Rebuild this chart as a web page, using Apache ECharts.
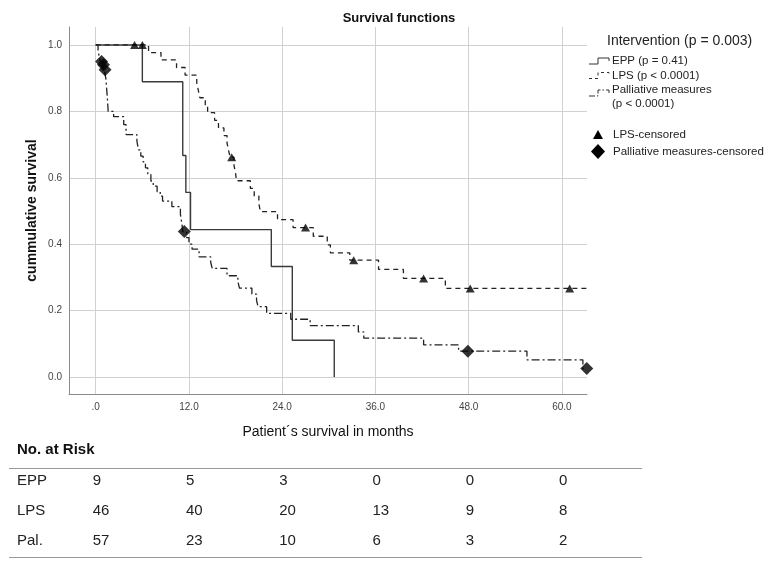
<!DOCTYPE html>
<html><head><meta charset="utf-8">
<script src="https://cdn.jsdelivr.net/npm/echarts@6.0.0/dist/echarts.min.js"></script>
<style>html,body{margin:0;padding:0;background:#fff}#c{width:772px;height:563px}</style>
</head><body><div id="c"></div>
<script>
// ---- data ----
const eppTimes = [0, 6.0, 11.2, 11.6, 12.2, 22.6, 25.3, 30.7];
const eppSurv  = [1, 0.889, 0.667, 0.556, 0.444, 0.333, 0.111, 0];

const lpsTimes = [0, 6.8, 8.4, 10.4, 11.5, 13.0, 13.2, 13.4, 14.1, 14.4, 15.3, 15.8, 16.5, 16.9, 17.1, 17.3, 17.8, 18.0, 18.1, 19.9, 20.4, 21.0, 21.2, 23.4, 25.4, 28.0, 29.8, 30.2, 32.7, 36.4, 39.6, 45.0, 63.2];
const lpsSurv  = [1, 0.977, 0.955, 0.932, 0.909, 0.886, 0.864, 0.841, 0.818, 0.796, 0.773, 0.750, 0.727, 0.705, 0.682, 0.662, 0.637, 0.614, 0.591, 0.568, 0.545, 0.521, 0.498, 0.474, 0.450, 0.424, 0.398, 0.374, 0.352, 0.324, 0.297, 0.267, 0.267];
const lpsCensorT = [5.0, 6.0, 17.5, 27.0, 33.2, 42.2, 48.2, 61.0];
const lpsCensorS = [1, 1, 0.662, 0.450, 0.352, 0.297, 0.267, 0.267];

const palTimes = [0, 0.3, 0.45, 0.6, 0.9, 1.1, 1.3, 1.4, 1.5, 1.6, 2.3, 3.6, 3.9, 5.3, 5.5, 5.8, 6.1, 6.4, 6.7, 7.1, 7.4, 7.9, 8.3, 8.6, 9.8, 10.9, 11.1, 11.2, 11.7, 12.0, 12.4, 13.3, 14.8, 15.0, 16.9, 18.3, 18.5, 20.1, 20.7, 20.9, 22.0, 25.1, 27.6, 33.8, 34.5, 42.2, 46.7, 55.5, 62.7, 63.2];
const palSurv  = [1, 0.982, 0.965, 0.95, 0.94, 0.925, 0.90, 0.87, 0.84, 0.80, 0.784, 0.76, 0.73, 0.71, 0.684, 0.665, 0.648, 0.63, 0.61, 0.59, 0.575, 0.558, 0.545, 0.53, 0.513, 0.49, 0.46, 0.438, 0.42, 0.40, 0.385, 0.362, 0.345, 0.327, 0.305, 0.287, 0.268, 0.25, 0.23, 0.212, 0.192, 0.174, 0.155, 0.136, 0.117, 0.097, 0.078, 0.052, 0.026, 0.026];
const palCensorT = [0.75, 1.0, 1.2, 11.4, 47.9, 63.2];
const palCensorS = [0.95, 0.94, 0.925, 0.438, 0.078, 0.026];

const xTicks = [0, 12, 24, 36, 48, 60];
const yTicks = [0, 0.2, 0.4, 0.6, 0.8, 1.0];

const riskTimes = [0, 12, 24, 36, 48, 60];
const riskGroups = ['EPP', 'LPS', 'Pal.'];
const riskEPP = [9, 5, 3, 0, 0, 0];
const riskLPS = [46, 40, 20, 13, 9, 8];
const riskPal = [57, 23, 10, 6, 3, 2];

// ---- chart ----
const zip = (a, b) => a.map((v, i) => [v, b[i]]);
const FONT = 'Liberation Sans, Arial, sans-serif';
const chart = echarts.init(document.getElementById('c'), null, {renderer: 'canvas'});

const dashDot = [8, 3, 2, 3];

function legendGlyph(x, y, dash) {
  const st = {stroke: '#333', lineWidth: 1, fill: null};
  if (dash) st.lineDash = dash;
  return {
    type: 'polyline',
    shape: {points: [[x, y + 3], [x + 9, y + 3], [x + 9, y - 3], [x + 20, y - 3], [x + 20, y]]},
    style: st
  };
}
function txt(x, y, s, size, opts) {
  return {
    type: 'text', x: x, y: y,
    style: Object.assign({text: s, fontSize: size, fontFamily: FONT, fill: '#222', verticalAlign: 'middle'}, (opts || {}))
  };
}

const option = {
  animation: false,
  backgroundColor: '#fff',
  title: {
    text: 'Survival functions', left: 394, top: 7, textAlign: 'center',
    textStyle: {fontFamily: FONT, fontSize: 13, fontWeight: 'bold', color: '#111'}
  },
  grid: {left: 69, right: 185, top: 27, bottom: 169, containLabel: false, outerBoundsMode: 'none'},
  xAxis: {
    type: 'value', min: -3.44, max: 63.23,
    name: 'Patient\u00b4s survival in months', nameLocation: 'middle', nameGap: 31,
    nameTextStyle: {fontFamily: FONT, fontSize: 14, color: '#111'},
    axisLine: {show: true, onZero: false, lineStyle: {color: '#8a8a8a', width: 1}},
    axisTick: {show: false, customValues: xTicks},
    axisLabel: {customValues: xTicks, fontFamily: FONT, fontSize: 10, color: '#444', margin: 8,
      formatter: v => v === 0 ? '.0' : v.toFixed(1)},
    splitLine: {show: true, lineStyle: {color: '#d0d0d0', width: 1}}
  },
  yAxis: {
    type: 'value', min: -0.051, max: 1.054,
    name: 'cummulative survival', nameLocation: 'middle', nameGap: 30, nameMoveOverlap: false,
    nameTextStyle: {fontFamily: FONT, fontSize: 14, fontWeight: 'bold', color: '#111'},
    axisLine: {show: true, onZero: false, lineStyle: {color: '#8a8a8a', width: 1}},
    axisTick: {show: false, customValues: yTicks},
    axisLabel: {customValues: yTicks, fontFamily: FONT, fontSize: 10, color: '#444', margin: 7,
      formatter: v => v.toFixed(1)},
    splitLine: {show: true, lineStyle: {color: '#d0d0d0', width: 1}}
  },
  series: [
    {name: 'EPP', type: 'line', step: 'end', data: zip(eppTimes, eppSurv), showSymbol: false, symbol: 'none',
      lineStyle: {color: '#3a3a3a', width: 1.4, type: 'solid'}, z: 3},
    {name: 'LPS', type: 'line', step: 'end', data: zip(lpsTimes, lpsSurv), showSymbol: false, symbol: 'none',
      lineStyle: {color: '#222', width: 1.3, type: [5, 4]}, z: 3},
    {name: 'Palliative measures', type: 'line', step: 'end', data: zip(palTimes, palSurv), showSymbol: false, symbol: 'none',
      lineStyle: {color: '#222', width: 1.3, type: dashDot}, z: 3},
    {name: 'LPS-censored', type: 'scatter', data: zip(lpsCensorT, lpsCensorS), symbol: 'triangle', symbolSize: [9, 8],
      itemStyle: {color: '#000'}, z: 4},
    {name: 'Palliative measures-censored', type: 'scatter', data: zip(palCensorT, palCensorS), symbol: 'diamond', symbolSize: [13, 13],
      itemStyle: {color: '#000'}, z: 4}
  ]
};
chart.setOption(option);

// ---- legend + risk table (positions from chart scale) ----
const g = [];
g.push(txt(607, 41, 'Intervention (p = 0.003)', 14, {fill: '#222'}));
g.push(legendGlyph(589, 61, null));
g.push(txt(612, 61, 'EPP (p = 0.41)', 11.5));
g.push(legendGlyph(589, 75.5, [3, 3]));
g.push(txt(612, 75.5, 'LPS (p < 0.0001)', 11.5));
g.push(legendGlyph(589, 93, [6, 2, 1.5, 2]));
g.push(txt(612, 90, 'Palliative measures', 11.5));
g.push(txt(612, 103.5, '(p < 0.0001)', 11.5));
g.push({type: 'polygon', shape: {points: [[598, 130], [603, 139], [593, 139]]}, style: {fill: '#000'}});
g.push(txt(613, 135, 'LPS-censored', 11.5));
g.push({type: 'polygon', shape: {points: [[598, 144], [605, 151.5], [598, 159], [591, 151.5]]}, style: {fill: '#000'}});
g.push(txt(613, 152, 'Palliative measures-censored', 11.5));

g.push(txt(17, 450, 'No. at Risk', 15, {fontWeight: 'bold', fill: '#111'}));
g.push({type: 'line', shape: {x1: 9, y1: 468.5, x2: 642, y2: 468.5}, style: {stroke: '#999', lineWidth: 1.2}});
g.push({type: 'line', shape: {x1: 9, y1: 557.5, x2: 642, y2: 557.5}, style: {stroke: '#999', lineWidth: 1.2}});
const rows = [riskEPP, riskLPS, riskPal];
const rowY = [481, 510.5, 540.5];
rows.forEach((vals, r) => {
  g.push(txt(17, rowY[r], riskGroups[r], 15));
  vals.forEach((v, i) => {
    const px = chart.convertToPixel({xAxisIndex: 0}, riskTimes[i]);
    g.push(txt(px - 3, rowY[r], String(v), 15));
  });
});
chart.setOption({graphic: {elements: g}});
</script>
</body></html>
